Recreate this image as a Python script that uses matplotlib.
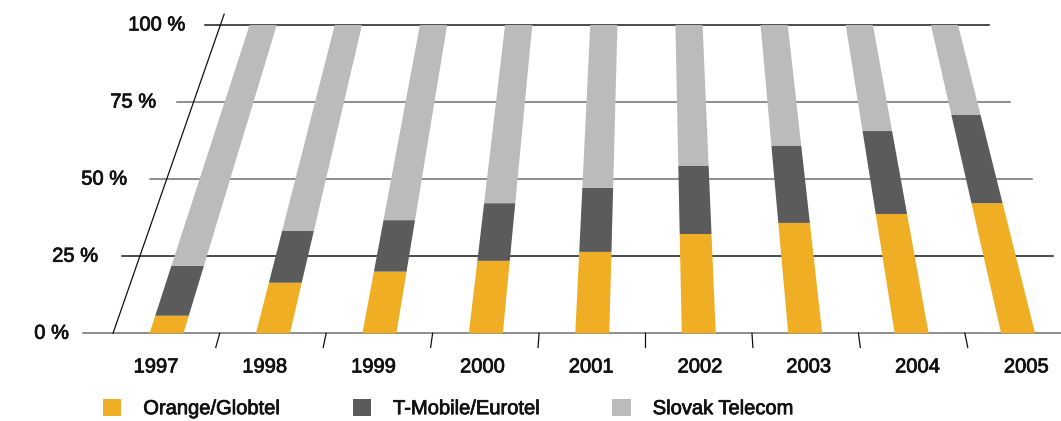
# Market share of Slovak mobile operators, drawn in a tilted "floor" perspective

import matplotlib
matplotlib.use("Agg")
import matplotlib.pyplot as plt
import matplotlib.patheffects as pe
from matplotlib.patches import Patch

years = ['1997', '1998', '1999', '2000', '2001', '2002', '2003', '2004', '2005']
orange = [5.7, 16.4, 20.0, 23.5, 26.4, 32.2, 35.8, 38.7, 42.2]
tmobile = [16.2, 16.9, 16.7, 18.7, 20.8, 22.2, 25.1, 26.9, 28.6]
slovak = [78.1, 66.7, 63.3, 57.8, 52.8, 45.6, 39.1, 34.4, 29.2]
series_names = ['Orange/Globtel', 'T-Mobile/Eurotel', 'Slovak Telecom']
colors = ['#F0AE24', '#5B5B5B', '#BBBBBB']
yticks = [0, 25, 50, 75, 100]

plt.rcParams['font.family'] = ['Liberation Sans', 'DejaVu Sans']
FS = 14.5
TXT = '#111111'
# slightly heavier text, the original uses a medium weight
thick = [pe.withStroke(linewidth=0.55, foreground=TXT)]

# perspective: x shrinks towards VP_X as the value grows
VP_X = 650.0
SHRINK = 0.002


def proj(x, y):
    return VP_X + (x - VP_X) * (1 - SHRINK * y)


fig = plt.figure(figsize=(10.61, 4.21), dpi=100)
ax = fig.add_axes([0, 0, 1, 1])
ax.set_xlim(0, 1061)
ax.set_ylim(-28.45, 108.1)
ax.axis('off')

# gridlines
grid_col = {0: '#707070', 25: '#1a1a1a', 50: '#707070', 75: '#707070', 100: '#1a1a1a'}
for t in yticks:
    x0, x1 = (83, 1120) if t == 0 else (94, 1074)
    ax.plot([proj(x0, t), proj(x1, t)], [t, t], color=grid_col[t], lw=1.1, zorder=1)
    ax.text(proj(69, t), t, '%d %%' % t, ha='right', va='center', fontsize=FS,
            color=TXT, path_effects=thick)

# slanted value axis
ax.plot([proj(113, 0), proj(113, 103.5)], [0, 103.5], color=TXT, lw=0.9, zorder=1)

# bars
left0, step, width = 149.5, 106.45, 34.0
for i, yr in enumerate(years):
    xl = left0 + step * i
    xr = xl + width
    bottom = 0
    for vals, c in zip([orange, tmobile, slovak], colors):
        top = bottom + vals[i]
        px = [proj(xl, bottom), proj(xr, bottom), proj(xr, top), proj(xl, top)]
        ax.fill(px, [bottom, bottom, top, top], color=c, lw=0, zorder=2)
        bottom = top
    xc = xl + width / 2
    ax.text(proj(xc, -10.9), -10.9, yr, ha='center', va='center', fontsize=FS,
            color=TXT, path_effects=thick)
    if i < len(years) - 1:
        xt = xr + (step - width) / 2
        ax.plot([proj(xt, 0), proj(xt, -4.6)], [0, -4.6], color=TXT, lw=0.9)

handles = [Patch(facecolor=c, edgecolor='none') for c in colors]
leg = ax.legend(handles, series_names, loc='center left', bbox_to_anchor=(103 / 1061, 12.5 / 421),
                ncol=3, frameon=False, fontsize=FS, handlelength=0.9, handleheight=0.9,
                handletextpad=1.1, columnspacing=3.6, borderpad=0, borderaxespad=0)
for t in leg.get_texts():
    t.set_color(TXT)
    t.set_path_effects(thick)

fig.savefig('out.png', dpi=100)
